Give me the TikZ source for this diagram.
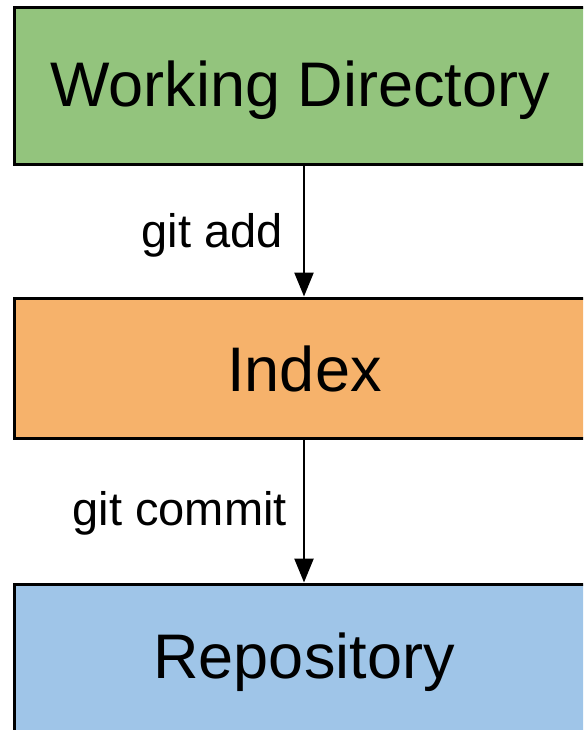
\documentclass[tikz,border=0pt]{standalone}
\usepackage{fontspec}
\setmainfont{Liberation Sans}
\usetikzlibrary{arrows.meta}
\definecolor{wdgreen}{RGB}{147,196,125}
\definecolor{idxorange}{RGB}{246,178,107}
\definecolor{repoblue}{RGB}{159,197,232}
\tikzset{
  box/.style={draw=black, line width=3pt, rectangle, inner sep=0pt, minimum width=600pt},
  bigtext/.style={anchor=base, inner sep=0pt, font=\fontsize{63}{70}\selectfont},
  cmdtext/.style={anchor=base east, inner sep=0pt, font=\fontsize{47}{52}\selectfont},
  flow/.style={line width=2.5pt, -{Triangle[width=19pt,length=24pt]}}
}
\begin{document}
\begin{tikzpicture}[x=1pt,y=-1pt]
\useasboundingbox (0,0) rectangle (583,730);
\clip (0,0) rectangle (583,730);
\node[box, fill=wdgreen, minimum height=157pt] (wd) at (314,86) {};
\node[box, fill=idxorange, minimum height=140pt] (idx) at (314,368) {};
\node[box, fill=repoblue, minimum height=200pt] (repo) at (314,684) {};
\node[bigtext] (wdt) at (300,107) {Working Directory};
\node[bigtext] (idxt) at (304.5,391) {Index};
\node[bigtext] (repot) at (304,678) {Repository};
\coordinate (a1s) at (304,165);
\coordinate (a2s) at (304,438);
\draw[flow] (wd.south -| a1s) -- (idx.north -| a1s);
\draw[flow] (idx.south -| a2s) -- (repo.north -| a2s);
\node[cmdtext] (add) at (283,247) {git add};
\node[cmdtext] (commit) at (287,525) {git commit};
\end{tikzpicture}
\end{document}
